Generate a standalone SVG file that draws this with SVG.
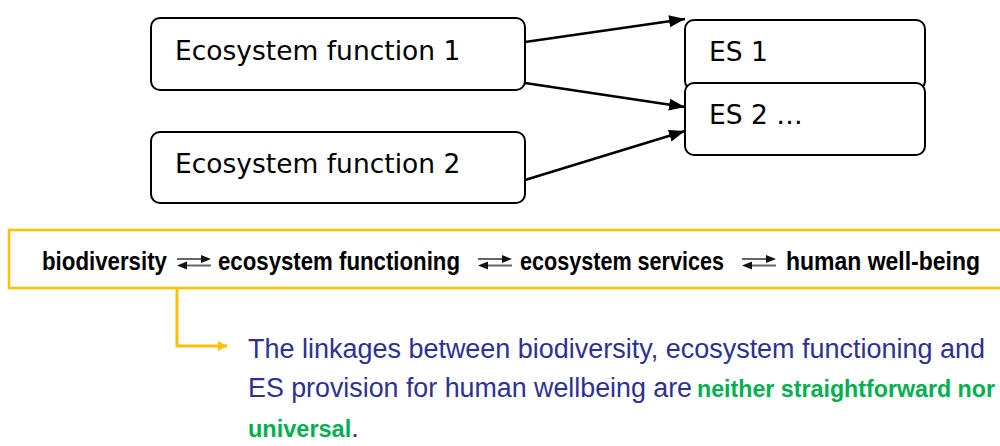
<svg xmlns="http://www.w3.org/2000/svg" width="1000" height="446" viewBox="0 0 1000 446">
  <style>
    .box { fill: #ffffff; stroke: #000000; stroke-width: 2; }
    .lbl { font-family: "DejaVu Sans", Verdana, sans-serif; font-size: 26.5px; fill: #000000; }
    .conn { stroke: #000000; stroke-width: 2.5; fill: none; }
    .chain { font-family: "Liberation Sans", Arial, sans-serif; font-weight: bold; font-size: 25px; fill: #000000; }
    .blue { font-family: "Liberation Sans", Arial, sans-serif; font-size: 27px; fill: #2E3192; }
    .green { font-family: "Liberation Sans", Arial, sans-serif; font-weight: bold; font-size: 23.5px; fill: #00B050; }
    .ybox { fill: none; stroke: #FFC000; stroke-width: 2.5; }
    .yconn { fill: none; stroke: #FFC000; stroke-width: 3; }
  </style>
  <defs>
    <marker id="arrow" markerUnits="userSpaceOnUse" markerWidth="17" markerHeight="13" refX="16" refY="6" orient="auto">
      <path d="M0,0 L16,6 L0,12 z" fill="#000000"/>
    </marker>
    <marker id="yarrow" markerUnits="userSpaceOnUse" markerWidth="10" markerHeight="12" refX="9" refY="5" orient="auto">
      <path d="M0,0 L9,5 L0,10 z" fill="#FFC000"/>
    </marker>
    <g id="dbl">
      <line x1="0" y1="0" x2="26" y2="0" stroke="#666666" stroke-width="2"/>
      <path d="M24,-4 L34,0 L24,4 z" fill="#111111"/>
      <line x1="8" y1="6.5" x2="34" y2="6.5" stroke="#666666" stroke-width="2"/>
      <path d="M10,2.5 L0,6.5 L10,10.5 z" fill="#111111"/>
    </g>
  </defs>

  <g id="connectors">
    <line class="conn" x1="525" y1="42" x2="685" y2="19" marker-end="url(#arrow)"/>
    <line class="conn" x1="525" y1="83" x2="685" y2="107" marker-end="url(#arrow)"/>
    <line class="conn" x1="525" y1="180" x2="685" y2="131" marker-end="url(#arrow)"/>
  </g>

  <g id="ef1">
    <rect class="box" x="151" y="18" width="374" height="72" rx="9"/>
    <text class="lbl" x="175" y="60">Ecosystem function 1</text>
  </g>
  <g id="ef2">
    <rect class="box" x="151" y="132" width="374" height="71" rx="9"/>
    <text class="lbl" x="175" y="173">Ecosystem function 2</text>
  </g>
  <g id="es1">
    <rect class="box" x="685" y="20" width="240" height="70" rx="9"/>
    <text class="lbl" x="709" y="61">ES 1</text>
  </g>
  <g id="es2">
    <rect class="box" x="685" y="83" width="240" height="72" rx="9"/>
    <text class="lbl" x="709" y="124">ES 2 …</text>
  </g>

  <g id="chain">
    <path class="ybox" d="M1000,230 H9 V288 H1000"/>
    <text class="chain" x="42" y="270" textLength="125" lengthAdjust="spacingAndGlyphs">biodiversity</text>
    <use href="#dbl" x="177" y="259"/>
    <text class="chain" x="218" y="270" textLength="242" lengthAdjust="spacingAndGlyphs">ecosystem functioning</text>
    <use href="#dbl" x="478" y="259"/>
    <text class="chain" x="520" y="270" textLength="204" lengthAdjust="spacingAndGlyphs">ecosystem services</text>
    <use href="#dbl" x="742" y="259"/>
    <text class="chain" x="786" y="270" textLength="194" lengthAdjust="spacingAndGlyphs">human well-being</text>
  </g>

  <g id="yellow-connector">
    <path class="yconn" d="M177,288 V346 H227" marker-end="url(#yarrow)"/>
  </g>

  <g id="note">
    <text class="blue" x="248" y="358" textLength="737" lengthAdjust="spacingAndGlyphs">The linkages between biodiversity, ecosystem functioning and</text>
    <text class="blue" x="248" y="397" textLength="444" lengthAdjust="spacingAndGlyphs">ES provision for human wellbeing are</text>
    <text class="green" x="697" y="397" textLength="298" lengthAdjust="spacingAndGlyphs">neither straightforward nor</text>
    <text x="248" y="437"><tspan class="green">universal</tspan><tspan class="blue">.</tspan></text>
  </g>
</svg>
